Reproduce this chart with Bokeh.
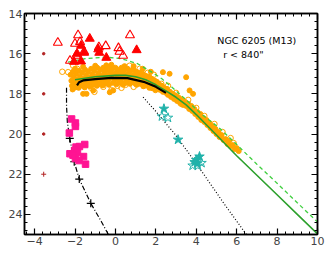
from bokeh.plotting import figure
from bokeh.models import Range1d, LinearAxis, SingleIntervalTicker, Label
from bokeh.embed import file_html
from bokeh.resources import INLINE

# ---------------- data ----------------
agb_open = [(-2.85, 15.45), (-1.85, 15.08), (-2.0, 15.5), (-1.75, 15.42), (-1.55, 15.9),
            (-0.82, 15.68), (-0.48, 15.62), (0.15, 15.72), (0.2, 15.9), (0.72, 15.08),
            (0.38, 16.1), (-2.25, 16.35), (-1.95, 16.1)]
agb_fill = [(-1.27, 15.25), (-1.7, 15.6), (-1.9, 16.0), (-1.55, 15.95), (-0.85, 15.78),
            (-0.8, 15.95), (1.05, 15.82), (-0.45, 16.2), (-2.05, 16.4), (-1.7, 16.38)]

hb_fill = [(-2.22, 17.05), (-2.18, 17.35), (-2.15, 17.6), (-2.1, 16.9), (-2.05, 17.2), (-2.0, 17.45),
           (-1.95, 17.0), (-1.9, 17.3), (-1.86, 17.55), (-1.8, 16.85), (-1.76, 17.15), (-1.7, 17.4),
           (-1.65, 16.95), (-1.6, 17.25), (-1.55, 17.5), (-1.5, 16.8), (-1.45, 17.1), (-1.4, 17.35),
           (-1.35, 16.9), (-1.3, 17.2), (-1.25, 17.45), (-1.2, 16.75), (-1.15, 17.05), (-1.1, 17.3),
           (-1.05, 16.85), (-1.0, 17.15), (-0.95, 17.4), (-0.9, 16.7), (-0.85, 17.0), (-0.8, 17.25),
           (-0.75, 16.8), (-0.7, 17.1), (-0.65, 17.35), (-0.6, 16.7), (-0.55, 16.95), (-0.5, 17.2),
           (-0.45, 16.8), (-0.4, 17.05), (-0.35, 17.3), (-0.3, 16.65), (-0.25, 16.9), (-0.2, 17.15),
           (-0.15, 16.75), (-0.1, 17.0), (-0.05, 17.28), (0.0, 16.7), (0.05, 16.95), (0.1, 17.2),
           (0.15, 16.8), (0.2, 17.05), (0.25, 17.3), (0.3, 16.7), (0.35, 16.95), (0.4, 17.2),
           (0.45, 16.8), (0.5, 17.05), (0.55, 17.3), (0.6, 16.75), (0.65, 17.0), (0.7, 17.25),
           (0.75, 16.85), (0.8, 17.1), (0.85, 17.35), (0.9, 16.8), (0.95, 17.05), (1.0, 17.3),
           (1.05, 16.9), (1.1, 17.15), (1.15, 17.4), (1.2, 16.95), (1.25, 17.2), (1.3, 17.45),
           (1.35, 17.0), (1.4, 17.25), (1.45, 17.5), (1.5, 17.1), (1.55, 17.35), (1.6, 17.55),
           (1.65, 17.15), (1.7, 17.4), (1.75, 17.6), (1.8, 17.25), (1.85, 17.5), (1.9, 17.7),
           (1.95, 17.35), (2.0, 17.6), (-1.3, 17.6), (-0.6, 17.5), (0.3, 17.45), (1.0, 17.5),
           (-2.0, 16.75), (-0.2, 16.55), (0.9, 16.62),
           (-2.12, 17.78), (-1.98, 17.68), (-1.82, 17.7), (-1.68, 17.58), (-1.52, 17.68),
           (-1.38, 17.55), (-1.22, 17.62), (-1.08, 17.5), (-0.92, 17.6), (-0.78, 17.48),
           (-0.62, 17.58), (-0.45, 17.45), (-0.32, 17.55), (-0.12, 17.45), (0.05, 17.52),
           (0.18, 17.42), (0.38, 17.55), (0.55, 17.45), (0.72, 17.5), (0.88, 17.42),
           (1.05, 17.55), (1.22, 17.5), (1.38, 17.62), (1.52, 17.58), (1.68, 17.7),
           (1.82, 17.72), (1.98, 17.82),
           (-1.6, 16.65), (-1.0, 16.6), (-0.45, 16.58), (0.45, 16.62), (1.35, 16.75), (1.75, 16.9)]
rgb_fill = [(2.05, 17.4), (2.1, 17.7), (2.15, 17.5), (2.2, 17.8), (2.3, 17.6), (2.35, 17.9),
            (2.4, 17.7), (2.5, 17.95), (2.55, 17.75), (2.6, 18.05), (2.7, 17.9), (2.75, 18.15),
            (2.85, 18.0), (2.9, 18.25), (3.0, 18.1), (3.05, 18.35), (3.15, 18.2), (3.2, 18.45),
            (3.3, 18.3), (3.35, 18.55), (3.45, 18.4), (3.5, 18.6), (3.6, 18.5), (3.65, 18.75),
            (3.75, 18.6), (3.8, 18.85), (3.9, 18.75), (3.95, 19.0), (4.05, 18.9), (4.1, 19.15),
            (4.2, 19.0), (4.25, 19.3), (4.35, 19.2), (4.4, 19.4), (4.5, 19.3), (4.55, 19.55),
            (4.65, 19.45), (4.7, 19.7), (4.8, 19.6), (4.85, 19.85), (4.95, 19.75), (5.0, 20.0),
            (5.1, 19.9), (5.15, 20.15), (5.25, 20.05), (5.35, 20.3), (5.45, 20.25), (5.55, 20.5),
            (5.6, 20.35), (5.7, 20.6), (5.8, 20.55), (5.9, 20.75), (6.0, 20.7), (6.1, 20.85)]
outlier_fill = [(-1.6, 18.0), (-1.43, 18.0), (-1.1, 17.83), (-0.28, 17.92), (-0.11, 17.83),
                (2.35, 16.92), (2.68, 17.0), (3.5, 17.17), (3.67, 17.83), (3.84, 18.0)]
hb_open = [(-2.63, 16.9), (-2.34, 16.92), (-2.09, 16.6), (-1.9, 16.75), (-1.5, 17.6),
           (-1.2, 17.7), (-1.04, 17.9), (-0.6, 17.65), (-0.2, 17.82), (0.1, 17.6),
           (0.5, 17.55), (0.9, 17.65), (0.7, 16.6), (1.2, 16.75), (1.6, 16.95),
           (1.9, 17.05), (2.27, 17.5), (2.6, 17.6), (3.0, 17.95), (3.26, 18.5),
           (3.6, 18.3), (4.0, 18.7), (4.4, 19.1), (4.9, 19.5), (5.3, 19.9),
           (5.7, 20.2), (5.85, 20.45), (-0.9, 17.55), (0.3, 17.7), (1.4, 17.6)]

pink_sq = [(-2.17, 19.25), (-1.98, 19.45), (-1.98, 19.62), (-2.28, 19.95), (-1.52, 20.52),
           (-1.95, 20.65), (-1.78, 20.62), (-2.02, 20.82), (-1.88, 20.92), (-2.25, 20.98),
           (-2.1, 21.05), (-1.58, 21.12), (-1.98, 21.22), (-1.8, 21.32), (-1.48, 21.5)]
teal_fill = [(2.4, 18.74), (3.1, 20.28), (4.16, 21.12), (4.0, 21.29), (4.05, 21.46), (3.92, 21.4)]
teal_open = [(2.3, 19.12), (2.6, 19.19), (4.26, 21.44), (3.82, 21.57), (4.08, 21.58)]

err_x = [-3.55, -3.55, -3.55]
err_y = [16, 18, 20]
err_cross = [(-3.55, 22)]

green_x = [-2.0, -1.0, 0.0, 0.5, 1.0, 1.5, 2.0, 2.5, 3.0, 3.5, 4.0, 5.0, 6.0, 7.0, 8.0, 9.0, 10.0]
green_y = [17.3, 17.15, 17.08, 17.08, 17.15, 17.3, 17.55, 17.85, 18.17, 18.55, 19.03, 20.05, 21.08, 22.05, 23.02, 24.0, 24.97]
gdash_x = [-2.35, -1.5, -0.5, 0.3, 1.1, 1.8, 2.3, 2.8, 3.5, 4.25, 5.2, 6.0, 7.0, 8.0, 9.0, 10.0]
gdash_y = [16.42, 16.25, 16.17, 16.25, 16.5, 16.92, 17.25, 17.67, 18.3, 19.0, 19.75, 20.52, 21.5, 22.45, 23.42, 24.38]
black_x = [-1.9, -1.8, -1.6, -1.0, -0.2, 0.6, 1.4, 2.0, 2.5]
black_y = [17.58, 17.42, 17.33, 17.27, 17.2, 17.22, 17.4, 17.65, 17.95]
dot_x = [1.37, 2.0, 2.93, 3.7, 4.41, 5.4, 6.48]
dot_y = [18.16, 18.87, 19.99, 21.05, 22.06, 23.5, 25.0]
dd_x = [-2.42, -2.42, -2.38, -2.26, -2.04, -1.79, -1.22, -0.7, -0.35]
dd_y = [17.7, 18.6, 19.4, 20.22, 21.38, 22.24, 23.45, 24.35, 25.0]
dd_mark_x = [-2.26, -2.04, -1.79, -1.22]
dd_mark_y = [20.22, 21.38, 22.24, 23.45]

def xs(pts):
    return [a for a, b in pts]

def ys(pts):
    return [b for a, b in pts]

# ---------------- figure ----------------
FONT = "DejaVu Sans"
p = figure(width=332, height=256, x_range=Range1d(-4.5, 10), y_range=Range1d(25, 14),
           output_backend="svg", toolbar_location=None,
           min_border_left=24, min_border_right=15, min_border_top=13, min_border_bottom=22)
p.grid.visible = False
p.outline_line_color = "black"
p.outline_line_width = 1.5

ORANGE = "#ffa500"
p.scatter(xs(hb_fill), ys(hb_fill), marker="circle", size=5, fill_color=ORANGE, line_color=ORANGE)
p.scatter(xs(rgb_fill), ys(rgb_fill), marker="circle", size=5, fill_color=ORANGE, line_color=ORANGE)
p.scatter(xs(outlier_fill), ys(outlier_fill), marker="circle", size=5, fill_color=ORANGE, line_color=ORANGE)
p.scatter(xs(hb_open), ys(hb_open), marker="circle", size=5.5, fill_color=None,
          line_color=ORANGE, line_width=1)

p.line(gdash_x, gdash_y, line_color="#3fcf3f", line_width=1.3, line_dash="4 3")
p.line(green_x, green_y, line_color="#2ca02c", line_width=1.6)
p.line(black_x, black_y, line_color="black", line_width=2.2)
p.line(dot_x, dot_y, line_color="black", line_width=1.2, line_dash="1 2")
p.line(dd_x, dd_y, line_color="black", line_width=1.2, line_dash="5 2 1 2")
p.scatter(dd_mark_x, dd_mark_y, marker="cross", size=8, line_color="black", line_width=1.2)

p.scatter(xs(agb_open), ys(agb_open), marker="triangle", size=9, fill_color=None,
          line_color="red", line_width=1.1)
p.scatter(xs(agb_fill), ys(agb_fill), marker="triangle", size=9, fill_color="red", line_color="red")

p.scatter(xs(pink_sq), ys(pink_sq), marker="square", size=6.5, fill_color="#ff1493", line_color="#ff1493")
p.scatter(xs(teal_fill), ys(teal_fill), marker="star", size=10, fill_color="#20b2aa", line_color="#20b2aa")
p.scatter(xs(teal_open), ys(teal_open), marker="star", size=10, fill_color=None,
          line_color="#20b2aa", line_width=1)

p.scatter(err_x, err_y, marker="circle", size=2.5, fill_color="#b22222", line_color="#b22222")
p.scatter(xs(err_cross), ys(err_cross), marker="cross", size=5, line_color="#b22222", line_width=1)

p.add_layout(Label(x=5.04, y=15.35, text="NGC 6205 (M13)", text_font=FONT, text_font_size="9.5px",
                   text_baseline="middle", text_color="black"))
p.add_layout(Label(x=5.33, y=16.05, text='r < 840"', text_font=FONT, text_font_size="9.5px",
                   text_baseline="middle", text_color="black"))

# axes
top = LinearAxis()
right = LinearAxis()
p.add_layout(top, "above")
p.add_layout(right, "right")
for ax in p.axis:
    ax.ticker = SingleIntervalTicker(interval=2, num_minor_ticks=5)
    ax.major_tick_in = 6
    ax.major_tick_out = 0
    ax.minor_tick_in = 3
    ax.minor_tick_out = 0
    ax.axis_line_width = 1.5
    ax.major_tick_line_width = 1.2
    ax.minor_tick_line_width = 1
    ax.major_label_text_font = FONT
    ax.major_label_text_font_size = "11px"
    ax.major_label_standoff = 2
for ax in (top, right):
    ax.major_label_text_color = None
    ax.major_label_standoff = 0
p.xaxis.major_label_overrides = {-4: "\u22124", -2: "\u22122"}

open("out.html", "w").write(file_html(p, INLINE))
